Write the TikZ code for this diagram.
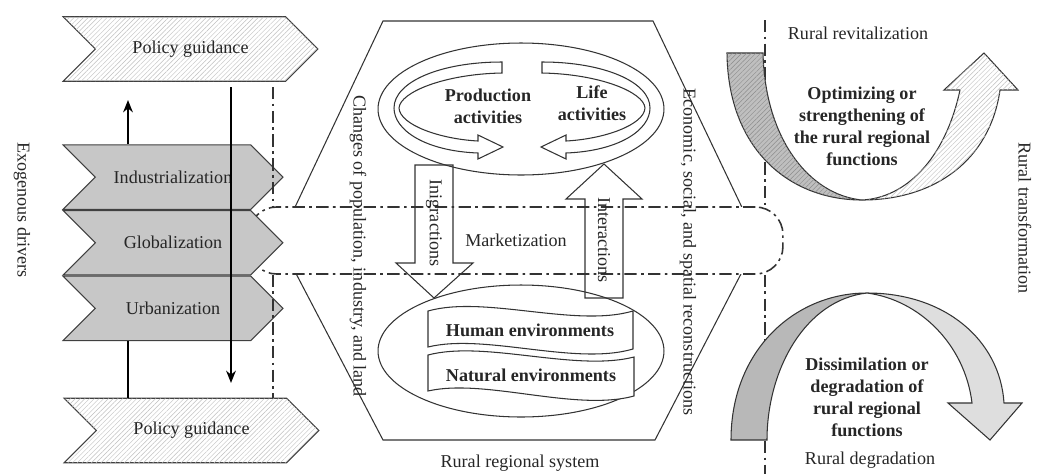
\documentclass[tikz,border=0pt]{standalone}
\usepackage{fontspec}
\setmainfont{Liberation Serif}
\usetikzlibrary{positioning,shapes.geometric,shapes.symbols,patterns.meta,arrows.meta}

\tikzset{
  txt/.style={inner sep=0pt, text=black!85, font=\fontsize{10.3}{12}\selectfont},
  boldtxt/.style={txt, align=center, font=\bfseries\fontsize{10.3}{12.5}\selectfont},
  hatch/.style={postaction={pattern={Lines[angle=45,distance=1.9pt,line width=0.25pt]}, pattern color=#1}},
  chevron/.style={draw=black!75, line width=0.6pt, shape=signal, signal from=west, signal to=east,
    signal pointer angle=90, minimum height=1.29cm, inner sep=0pt, txt},
  policy/.style={chevron, minimum width=5.1cm, fill=white, hatch=black!25},
  driver/.style={chevron, minimum width=4.4cm, fill=black!22},
  ring/.style={ellipse, draw=black!80, line width=0.6pt, minimum width=5.72cm, minimum height=2.64cm},
  outline/.style={draw=black!80, line width=0.6pt},
  mktline/.style={draw=black!80, line width=0.9pt, dash pattern=on 7pt off 2.5pt on 1.5pt off 2.5pt},
  mktband/.style={mktline, fill=white, rounded corners=0.55cm, minimum width=10.68cm, minimum height=1.34cm, txt},
  flow/.style={draw=black, line width=1pt, -{Stealth[length=7pt,width=5.5pt]}}
}

\begin{document}
\begin{tikzpicture}[x=0.02cm, y=-0.02cm]
\useasboundingbox (0,0) rectangle (1041,474);

% rural regional system
\draw[outline] (383,21) -- (653,21) -- (758,241) -- (655,440) -- (383,440) -- (279,241) -- cycle;
\node[mktband] (mkt) at (516,240.5) {Marketization};

\coordinate (dl) at (273,0);
\coordinate (drtop) at (765,20);
\coordinate (drbot) at (765,474);

% exogenous drivers
\node[policy] (poltop) at (190.5,49) {Policy guidance};
\node[driver] (ind) at (173,177.2) {Industrialization};
\node[driver, below=0pt of ind] (glo) {Globalization};
\node[driver, below=0pt of glo] (urb) {Urbanization};
\node[policy] (polbot) at (191.5,430.5) {Policy guidance};

\draw[mktline] ([yshift=-3pt]poltop.south -| dl) -- (mkt.north -| dl);
\draw[mktline] (mkt.south -| dl) -- (polbot.north -| dl);
\draw[mktline] (drtop) -- (mkt.north -| drtop);
\draw[mktline] (mkt.south -| drbot) -- (drbot);

\coordinate (upend) at (128,100);
\coordinate (downend) at (231,383);
\draw[flow] (ind.north -| upend) -- (upend);
\draw[line width=1pt] (urb.south -| upend) -- (polbot.north -| upend);
\draw[flow] ([yshift=-3pt]poltop.south -| downend) -- (downend);

\node[txt, rotate=-90] (exo) at (22,210) {Exogenous drivers};

% activities and environments
\node[ring] (act) at (521,109) {};
\node[ring] (env) at (521,351) {};

\draw[outline, fill=white] (502,62) -- (502,73) .. controls (445,74) and (400,92) .. (399,108)
  .. controls (400,125) and (440,139) .. (478,141) -- (478,135) -- (503,147) -- (478,159) -- (478,153)
  .. controls (425,151) and (394,130) .. (394,108) .. controls (394,82) and (440,62) .. (502,62) -- cycle;
\draw[outline, fill=white] (542,62) -- (542,73) .. controls (599,74) and (644,92) .. (645,108)
  .. controls (644,125) and (604,139) .. (566,141) -- (566,135) -- (541,147) -- (566,159) -- (566,153)
  .. controls (619,151) and (650,130) .. (650,108) .. controls (650,82) and (604,62) .. (542,62) -- cycle;
\node[boldtxt] (prod) at (488,106) {Production\\activities};
\node[boldtxt] (life) at (592,103) {Life\\activities};

\draw[outline, fill=white] (428,311) .. controls (485,295) and (575,328) .. (633,311) -- (633,349)
  .. controls (575,366) and (485,333) .. (428,347) -- cycle;
\draw[outline, fill=white] (428,355) .. controls (485,340) and (575,372) .. (634,357) -- (634,396)
  .. controls (575,412) and (485,378) .. (428,391) -- cycle;
\node[boldtxt] (human) at (530,330) {Human environments};
\node[boldtxt] (natural) at (531,375) {Natural environments};

\draw[outline] (415,165) -- (453,165) -- (453,263) -- (473,263) -- (434,298) -- (396,263) -- (415,263) -- cycle;
\draw[outline] (585,298) -- (623,298) -- (623,199) -- (642,199) -- (604,164) -- (566,199) -- (585,199) -- cycle;
\node[txt, rotate=-90] (int1) at (434,223) {Inigractions};
\node[txt, rotate=-90] (int2) at (604,240) {Interactions};

\node[txt, rotate=-90] (chg) at (358,246) {Changes of population, industry, and land};
\node[txt, rotate=-90] (eco) at (688,252) {Economic, social, and spatial reconstructions};
\node[txt] (sys) at (520,463) {Rural regional system};

% rural transformation
\draw[outline, fill=black!25, hatch=black!45] (727,53) -- (763,53) .. controls (765,140) and (810,195) .. (862,200)
  .. controls (790,200) and (728,150) .. (727,53) -- cycle;
\draw[outline, fill=white, hatch=black!25] (862,200) .. controls (935,200) and (990,160) .. (1000,90)
  -- (1018,90) -- (984,53) -- (944,90) -- (960,90) .. controls (945,160) and (905,198) .. (862,200) -- cycle;
\draw[outline, fill=black!28] (731,440) .. controls (731,350) and (795,293) .. (867,293)
  .. controls (805,300) and (767,370) .. (767,440) -- cycle;
\draw[outline, fill=black!13] (867,293) .. controls (945,293) and (1000,340) .. (1004,403)
  -- (1022,403) -- (990,440) -- (948,403) -- (972,403) .. controls (965,345) and (920,300) .. (867,293) -- cycle;

\node[txt] (rev) at (858,33) {Rural revitalization};
\node[boldtxt] (opt) at (862,126) {Optimizing or\\strengthening of\\the rural regional\\functions};
\node[boldtxt] (dis) at (867,397) {Dissimilation or\\degradation of\\rural regional\\functions};
\node[txt] (deg) at (870,460) {Rural degradation};
\node[txt, rotate=-90] (trans) at (1025,218) {Rural transformation};
\end{tikzpicture}
\end{document}
